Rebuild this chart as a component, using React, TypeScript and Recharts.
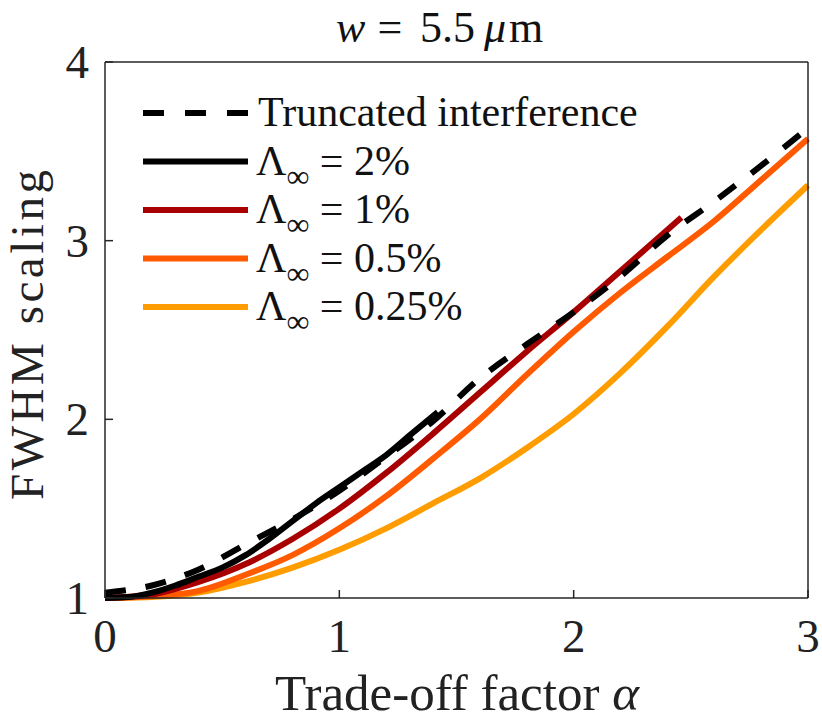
import React from 'react';
import { LineChart, Line, XAxis, YAxis } from 'recharts';

// Trade-off factor alpha vs FWHM scaling
const truncatedAlpha = [0, 0.2, 0.4, 0.6, 0.8, 1.0, 1.2, 1.4, 1.6, 1.8, 2.0, 2.2, 2.4, 2.6, 2.8, 3.0];
const truncatedFwhm = [1.03, 1.07, 1.16, 1.3, 1.44, 1.6, 1.79, 1.99, 2.23, 2.42, 2.6, 2.8, 3.03, 3.22, 3.42, 3.63];

const lambda2Alpha = [0, 0.1, 0.2, 0.3, 0.4, 0.5, 0.6, 0.7, 0.8, 0.9, 1.0, 1.1, 1.2, 1.3, 1.42];
const lambda2Fwhm = [1.0, 1.005, 1.03, 1.07, 1.12, 1.17, 1.24, 1.33, 1.43, 1.53, 1.62, 1.71, 1.8, 1.91, 2.04];

const lambda1Alpha = [0, 0.2, 0.4, 0.6, 0.8, 1.0, 1.2, 1.4, 1.6, 1.8, 2.0, 2.2, 2.46];
const lambda1Fwhm = [1.0, 1.02, 1.09, 1.19, 1.33, 1.5, 1.7, 1.92, 2.15, 2.38, 2.6, 2.83, 3.13];

const lambda05Alpha = [0, 0.2, 0.4, 0.6, 0.8, 1.0, 1.2, 1.4, 1.6, 1.8, 2.0, 2.2, 2.4, 2.6, 2.8, 3.0];
const lambda05Fwhm = [1.0, 1.01, 1.04, 1.13, 1.24, 1.39, 1.57, 1.78, 2.0, 2.25, 2.49, 2.71, 2.91, 3.11, 3.34, 3.57];

const lambda025Alpha = [0, 0.2, 0.4, 0.6, 0.8, 1.0, 1.2, 1.4, 1.6, 1.8, 2.0, 2.2, 2.4, 2.6, 2.8, 3.0];
const lambda025Fwhm = [1.0, 1.005, 1.03, 1.09, 1.17, 1.27, 1.39, 1.53, 1.67, 1.84, 2.03, 2.26, 2.52, 2.8, 3.06, 3.31];

const xTicks = [0, 1, 2, 3];
const yTicks = [1, 2, 3, 4];

const series = [
  { key: 'l025', label: '0.25%', color: '#ff9c00', alpha: lambda025Alpha, fwhm: lambda025Fwhm },
  { key: 'l05', label: '0.5%', color: '#ff5a00', alpha: lambda05Alpha, fwhm: lambda05Fwhm },
  { key: 'l1', label: '1%', color: '#a80000', alpha: lambda1Alpha, fwhm: lambda1Fwhm },
  { key: 'l2', label: '2%', color: '#000000', alpha: lambda2Alpha, fwhm: lambda2Fwhm },
];

const toPoints = (xs: number[], ys: number[]) => xs.map((x, i) => ({ x, y: ys[i] }));

const FONT = '"Liberation Serif", "DejaVu Serif", serif';
const AXIS = '#262626';
const TICK_LEN = 8;

const BottomTick = ({ x, y, payload }: any) => (
  <g>
    <line x1={x} y1={y} x2={x} y2={y - TICK_LEN} stroke={AXIS} strokeWidth={1.5} />
    <text x={x} y={y + 54} textAnchor="middle" fontFamily={FONT} fontSize={47} fill="#222">
      {payload.value}
    </text>
  </g>
);

const TopTick = ({ x, y }: any) => (
  <line x1={x} y1={y} x2={x} y2={y + TICK_LEN} stroke={AXIS} strokeWidth={1.5} />
);

const LeftTick = ({ x, y, payload }: any) => (
  <g>
    <line x1={x} y1={y} x2={x + TICK_LEN} y2={y} stroke={AXIS} strokeWidth={1.5} />
    <text x={x - 16} y={y + 16} textAnchor="end" fontFamily={FONT} fontSize={47} fill="#222">
      {payload.value}
    </text>
  </g>
);

const RightTick = ({ x, y }: any) => (
  <line x1={x} y1={y} x2={x - TICK_LEN} y2={y} stroke={AXIS} strokeWidth={1.5} />
);

// legend drawn in svg inside the chart, top-left of the plot box
const LegendRows = () => {
  const rows = [
    { label: null as string | null, color: '#000', dash: '21 21' as string | undefined },
    ...[...series].reverse().map((s) => ({ label: s.label as string | null, color: s.color, dash: undefined })),
  ];
  return (
    <g>
      {rows.map((r, i) => {
        const cy = 113 + i * 48.5;
        return (
          <g key={i}>
            <line x1={143} x2={248} y1={cy} y2={cy} stroke={r.color} strokeWidth={6} strokeDasharray={r.dash} />
            {r.label === null ? (
              <text x={258} y={cy + 13} fontFamily={FONT} fontSize={42} fill="#111">
                Truncated interference
              </text>
            ) : (
              <text x={256} y={cy + 13} fontFamily={FONT} fontSize={42} fill="#111">
                Λ
                <tspan fontSize={32} dy={12}>∞</tspan>
                <tspan dy={-12}>{' = ' + r.label}</tspan>
              </text>
            )}
          </g>
        );
      })}
    </g>
  );
};

export default function App() {
  return (
    <div style={{ position: 'absolute', left: 0, top: 0, width: 822, height: 723, background: '#fff' }}>
      <LineChart width={822} height={723} margin={{ top: 61, right: 13, bottom: 124, left: 104 }}>
        <XAxis
          type="number"
          dataKey="x"
          domain={[0, 3]}
          ticks={xTicks}
          height={1}
          tickSize={0}
          tickMargin={0}
          axisLine={{ stroke: AXIS, strokeWidth: 1.5 }}
          tick={<BottomTick />}
          allowDuplicatedCategory={false}
        />
        <XAxis
          xAxisId="top"
          orientation="top"
          type="number"
          dataKey="x"
          domain={[0, 3]}
          ticks={xTicks}
          height={1}
          tickSize={0}
          tickMargin={0}
          axisLine={{ stroke: AXIS, strokeWidth: 1.5 }}
          tick={<TopTick />}
        />
        <YAxis
          type="number"
          domain={[1, 4]}
          ticks={yTicks}
          width={1}
          tickSize={0}
          tickMargin={0}
          axisLine={{ stroke: AXIS, strokeWidth: 1.5 }}
          tick={<LeftTick />}
        />
        <YAxis
          yAxisId="right"
          orientation="right"
          type="number"
          domain={[1, 4]}
          ticks={yTicks}
          width={1}
          tickSize={0}
          tickMargin={0}
          axisLine={{ stroke: AXIS, strokeWidth: 1.5 }}
          tick={<RightTick />}
        />
        {series.map((s) => (
          <Line
            key={s.key}
            data={toPoints(s.alpha, s.fwhm)}
            dataKey="y"
            type="monotone"
            stroke={s.color}
            strokeWidth={6}
            dot={false}
            isAnimationActive={false}
          />
        ))}
        <Line
          data={toPoints(truncatedAlpha, truncatedFwhm)}
          dataKey="y"
          type="monotone"
          stroke="#000"
          strokeWidth={6}
          strokeDasharray="21 20"
          dot={false}
          isAnimationActive={false}
        />
        <LegendRows />
        {/* title pieces spaced like TeX math */}
        <g fontFamily={FONT} fontSize={44} fill="#111">
          <text x={336} y={42} fontStyle="italic">w</text>
          <text x={390} y={42} textAnchor="middle">=</text>
          <text x={420} y={42}>5.5</text>
          <text x={484} y={42} fontStyle="italic">μ</text>
          <text x={509} y={42}>m</text>
        </g>
        <text x={457} y={710} textAnchor="middle" fontFamily={FONT} fontSize={51} fill="#222">
          Trade-off factor <tspan fontStyle="italic">α</tspan>
        </text>
        <text
          x={43}
          y={335}
          textAnchor="middle"
          fontFamily={FONT}
          fontSize={47}
          fill="#222"
          textLength={330}
          lengthAdjust="spacing"
          transform="rotate(-90 43 335)"
        >
          FWHM scaling
        </text>
      </LineChart>
    </div>
  );
}
